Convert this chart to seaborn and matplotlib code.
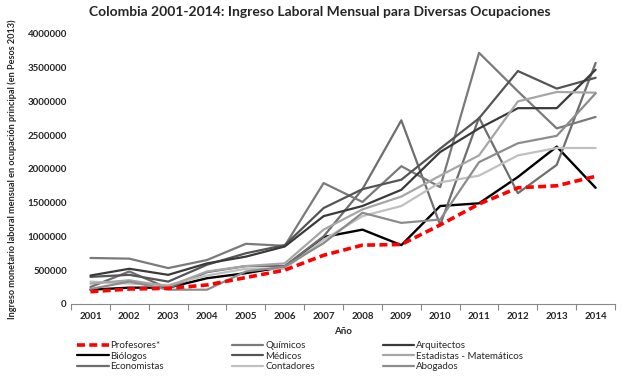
import numpy as np
import pandas as pd
import seaborn as sns
import matplotlib.pyplot as plt
from matplotlib.lines import Line2D

years = list(range(2001, 2015))

profesores = [180000, 220000, 230000, 280000, 390000, 500000, 720000, 870000, 880000, 1170000, 1480000, 1720000, 1750000, 1890000]
biologos = [210000, 240000, 240000, 380000, 455000, 550000, 990000, 1100000, 870000, 1450000, 1490000, 1880000, 2330000, 1720000]
quimicos = [680000, 670000, 530000, 650000, 890000, 860000, 1790000, 1510000, 2040000, 1730000, 3720000, 3150000, 2600000, 2770000]
arquitectos = [420000, 520000, 430000, 600000, 700000, 850000, 1300000, 1450000, 1690000, 2250000, 2600000, 2900000, 2900000, 3470000]
medicos = [400000, 430000, 330000, 580000, 750000, 870000, 1420000, 1700000, 1840000, 2300000, 2750000, 3450000, 3190000, 3350000]
estadistas = [300000, 350000, 260000, 480000, 560000, 600000, 1100000, 1400000, 1590000, 1900000, 2200000, 3000000, 3140000, 3130000]
economistas = [250000, 480000, 230000, 470000, 560000, 560000, 1000000, 1700000, 2720000, 1170000, 2760000, 1640000, 2060000, 3570000]
contadores = [330000, 300000, 280000, 420000, 520000, 520000, 950000, 1300000, 1450000, 1800000, 1900000, 2200000, 2310000, 2310000]
abogados = [220000, 330000, 210000, 210000, 480000, 550000, 900000, 1350000, 1200000, 1250000, 2100000, 2380000, 2490000, 3120000]

series = {
    'Profesores*': profesores,
    'Biólogos': biologos,
    'Economistas': economistas,
    'Químicos': quimicos,
    'Médicos': medicos,
    'Contadores': contadores,
    'Arquitectos': arquitectos,
    'Estadistas - Matemáticos': estadistas,
    'Abogados': abogados,
}
colors = {
    'Profesores*': '#ff0000',
    'Biólogos': '#000000',
    'Economistas': '#6e6e6e',
    'Químicos': '#7a7a7a',
    'Médicos': '#555555',
    'Contadores': '#c0c0c0',
    'Arquitectos': '#3a3a3a',
    'Estadistas - Matemáticos': '#a6a6a6',
    'Abogados': '#8c8c8c',
}

df = pd.DataFrame([(k, y, v) for k, vals in series.items() for y, v in zip(years, vals)],
                  columns=['Ocupación', 'Año', 'Ingreso'])

sns.set_style('white')
plt.rcParams['font.family'] = ['Lato', 'DejaVu Sans']

fig = plt.figure(figsize=(6.4, 3.77), dpi=100)
ax = fig.add_axes([0.111, 0.194, 0.850, 0.716])

# grey lines first, red on top
order = [k for k in series if k != 'Profesores*'] + ['Profesores*']
for name in order:
    sub = df[df['Ocupación'] == name]
    if name == 'Profesores*':
        sns.lineplot(data=sub, x='Año', y='Ingreso', ax=ax, color=colors[name],
                     linewidth=2.6, linestyle=(0, (2.2, 1.2)), legend=False)
    else:
        lw = 1.7 if name == 'Biólogos' else 1.6
        sns.lineplot(data=sub, x='Año', y='Ingreso', ax=ax, color=colors[name],
                     linewidth=lw, legend=False)

ax.set_xlim(2000.5, 2014.5)
ax.set_ylim(0, 4000000)
ax.set_yticks(np.arange(0, 4000001, 500000))
ax.set_yticklabels([str(int(v)) for v in np.arange(0, 4000001, 500000)])
ax.set_xticks(years)
ax.set_xticks(np.arange(2000.5, 2015, 1), minor=True)
ax.tick_params(axis='x', which='major', length=0, labelsize=7, pad=6)
ax.tick_params(axis='x', which='minor', length=4, width=0.8, color='#888888', direction='out', bottom=True)
ax.tick_params(axis='y', length=0, labelsize=7, pad=3)
for lab in ax.get_xticklabels() + ax.get_yticklabels():
    lab.set_fontweight('bold')

for s in ['top', 'right', 'left']:
    ax.spines[s].set_visible(False)
ax.spines['bottom'].set_color('#888888')
ax.spines['bottom'].set_linewidth(0.8)

ax.set_xlabel('Año', fontsize=7, fontweight='bold', labelpad=4)
ax.set_ylabel('Ingreso monetario laboral mensual en ocupación principal (en Pesos 2013)',
              fontsize=6.6, fontweight='bold')
ax.yaxis.set_label_coords(-0.1, 0.5)
fig.suptitle('Colombia 2001-2014: Ingreso Laboral Mensual para Diversas Ocupaciones',
             fontsize=10, fontweight='bold', y=0.985)

handles = []
for name in series:
    if name == 'Profesores*':
        handles.append(Line2D([], [], color=colors[name], linewidth=2.6, linestyle=(0, (2.2, 1.2))))
    else:
        handles.append(Line2D([], [], color=colors[name], linewidth=1.6))
fig.legend(handles, list(series.keys()), ncol=3, loc='upper left',
           bbox_to_anchor=(0.115, 0.105), frameon=False, fontsize=7,
           handlelength=3.2, handletextpad=0.2, columnspacing=7.0,
           labelspacing=0.15, borderaxespad=0)

fig.savefig('out.png', dpi=100)
